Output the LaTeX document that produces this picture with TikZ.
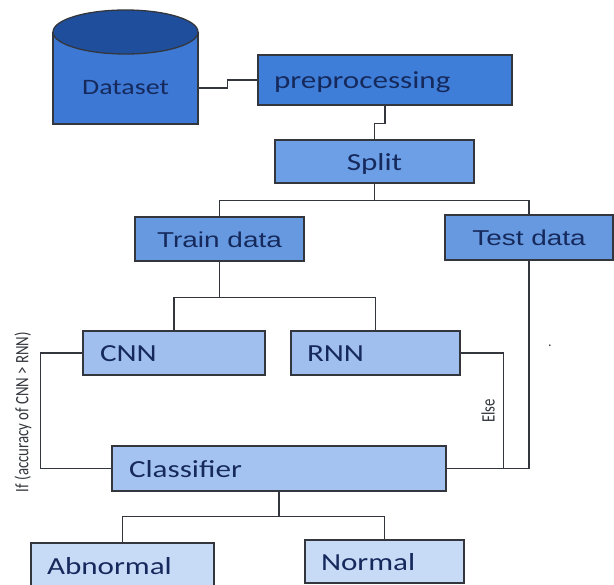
\documentclass[tikz,border=0pt]{standalone}
\usepackage{fontspec}
\usepackage{graphicx}
\newfontfamily\calfont[FakeStretch=1.27]{Carlito}
\newfontfamily\arifont[FakeStretch=1.3]{Liberation Sans}
\newfontfamily\lblfont{Carlito}
\definecolor{linec}{HTML}{33363D}
\definecolor{txtc}{HTML}{16295C}
\definecolor{cylbody}{HTML}{3D78D4}
\definecolor{cyltop}{HTML}{1F4F9C}
\definecolor{cpre}{HTML}{3F7ED8}
\definecolor{csplit}{HTML}{6C9FE6}
\definecolor{ctrain}{HTML}{6699E0}
\definecolor{cnnc}{HTML}{A0BFEF}
\definecolor{clsc}{HTML}{A5C3F0}
\definecolor{outc}{HTML}{C7DAF6}
\begin{document}
\begin{tikzpicture}[x=1pt,y=-1pt,
  box/.style={draw=linec, line width=1.3pt, inner ysep=0pt, text=txtc},
  calf/.style={font=\calfont\fontsize{24.5}{28}\selectfont, text height=17.5pt, text depth=0pt},
  arif/.style={font=\arifont\fontsize{21.5}{25}\selectfont, text height=17pt, text depth=0pt},
  wire/.style={draw=linec, line width=1.3pt},
  lbl/.style={text=linec, inner sep=0pt, rotate=90, font=\lblfont\fontsize{14.8}{16}\selectfont}]
\useasboundingbox[fill=white] (0,0) rectangle (614,585);
% cylinder
\fill[cylbody] (53,32) rectangle (198,124);
\draw[linec, line width=1.3pt] (53,32) -- (53,124) -- (198,124) -- (198,32);
\draw[draw=linec, line width=1.3pt, fill=cyltop] (125.5,32) ellipse [x radius=72.5, y radius=22];
\node[text=txtc, minimum width=145pt, inner sep=0pt, font=\calfont\fontsize{22}{26}\selectfont, text height=14pt, text depth=0pt] (ds) at (125.5,88) {Dataset};
% boxes
\node[box, calf, fill=cpre, minimum height=50pt, inner xsep=16pt, text width=222pt, align=left] (pre) at (385,80) {preprocessing};
\node[box, calf, fill=csplit, minimum width=199pt, minimum height=43pt] (split) at (374.5,161.5) {Split};
\node[box, arif, fill=ctrain, minimum width=169pt, minimum height=44pt] (train) at (219.5,239) {Train data};
\node[box, arif, fill=ctrain, minimum width=168pt, minimum height=45pt] (test) at (529,237.5) {Test data};
\node[box, calf, fill=cnnc, minimum height=44pt, inner xsep=17pt, text width=148pt, align=left] (cnn) at (174,353) {CNN};
\node[box, calf, fill=cnnc, minimum height=44pt, inner xsep=16pt, text width=137pt, align=left] (rnn) at (375.5,353) {RNN};
\node[box, calf, fill=clsc, minimum height=45pt, inner xsep=17pt, text width=300pt, align=left] (cls) at (279,468.5) {Classifier};
\node[box, calf, fill=outc, minimum height=46pt, inner xsep=16pt, text width=151pt, align=left] (abn) at (122.5,566) {Abnormal};
\node[box, calf, fill=outc, minimum height=43pt, inner xsep=16pt, text width=127pt, align=left] (nor) at (384.5,561.5) {Normal};
% connectors
\draw[wire] (ds.east) -- ++(29,0) |- (pre.west);
\draw[wire] (pre.south) -- ++(0,18) -| (split.north);
\draw[wire] (split.south) -- ++(0,17) coordinate (sj);
\draw[wire] (train.north) |- (sj) -| (test.north);
\draw[wire] (train.south) -- ++(0,36) coordinate (tj);
\draw[wire] (cnn.north) |- (tj) -| (rnn.north);
\draw[wire] (cnn.west) -- ++(-42,0) |- (cls.west);
\draw[wire] (rnn.east) -- ++(43,0) |- (cls.east);
\draw[wire] (test.south) |- (cls.east);
\draw[wire] (cls.south) -- ++(0,25) coordinate (cj);
\draw[wire] (abn.north) |- (cj) -| (nor.north);
% labels
\node[lbl] (iflbl) at (23,412) {\scalebox{1}[1.28]{If (accuracy of CNN > RNN)}};
\node[lbl] (elselbl) at (488,411) {\scalebox{1}[1.28]{Else}};
\node[text=linec, inner sep=0pt, font=\lblfont\fontsize{14}{14}\selectfont] (dot) at (550,346) {.};
\end{tikzpicture}
\end{document}
